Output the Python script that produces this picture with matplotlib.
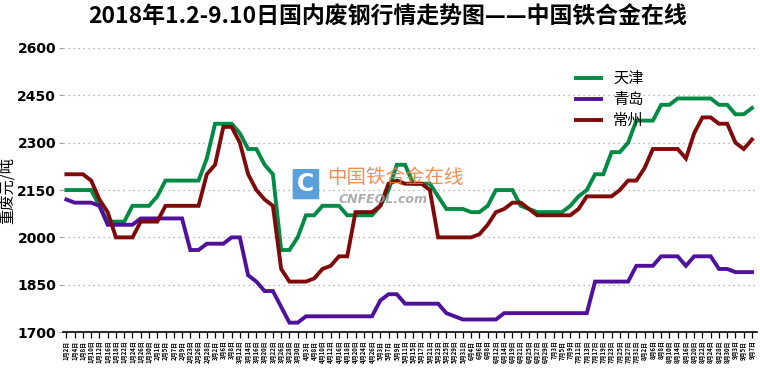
import matplotlib.pyplot as plt
from matplotlib.patches import FancyBboxPatch

plt.rcParams['font.family'] = ['Noto Sans CJK SC', 'DejaVu Sans']

dates = ["1月2日", "1月4日", "1月8日", "1月10日", "1月12日", "1月16日", "1月18日", "1月22日",
         "1月24日", "1月26日", "1月30日", "2月1日", "2月5日", "2月7日", "2月9日", "2月23日",
         "2月26日", "2月28日", "3月2日", "3月6日", "3月8日", "3月12日", "3月14日", "3月16日",
         "3月20日", "3月22日", "3月26日", "3月28日", "3月30日", "4月3日", "4月8日", "4月10日",
         "4月12日", "4月16日", "4月18日", "4月20日", "4月24日", "4月26日", "5月3日", "5月7日",
         "5月9日", "5月11日", "5月15日", "5月17日", "5月21日", "5月23日", "5月25日", "5月29日",
         "5月31日", "6月4日", "6月6日", "6月8日", "6月12日", "6月14日", "6月19日", "6月21日",
         "6月25日", "6月27日", "6月29日", "7月3日", "7月5日", "7月9日", "7月11日", "7月13日",
         "7月17日", "7月19日", "7月23日", "7月25日", "7月27日", "7月31日", "8月2日", "8月6日",
         "8月8日", "8月10日", "8月14日", "8月16日", "8月20日", "8月22日", "8月24日", "8月28日",
         "8月30日", "9月3日", "9月5日", "9月7日"]

tianjin = [2150, 2150, 2150, 2150, 2100, 2050, 2050, 2050, 2100, 2100, 2100, 2130, 2180, 2180,
           2180, 2180, 2180, 2250, 2360, 2360, 2360, 2330, 2280, 2280, 2230, 2200, 1960, 1960,
           2000, 2070, 2070, 2100, 2100, 2100, 2070, 2070, 2070, 2070, 2100, 2150, 2230, 2230,
           2170, 2170, 2170, 2130, 2090, 2090, 2090, 2080, 2080, 2100, 2150, 2150, 2150, 2100,
           2090, 2080, 2080, 2080, 2080, 2100, 2130, 2150, 2200, 2200, 2270, 2270, 2300, 2370,
           2370, 2370, 2420, 2420, 2440, 2440, 2440, 2440, 2440, 2420, 2420, 2390, 2390, 2410]

qingdao = [2120, 2110, 2110, 2110, 2100, 2040, 2040, 2040, 2040, 2060, 2060, 2060, 2060, 2060,
           2060, 1960, 1960, 1980, 1980, 1980, 2000, 2000, 1880, 1860, 1830, 1830, 1780, 1730,
           1730, 1750, 1750, 1750, 1750, 1750, 1750, 1750, 1750, 1750, 1800, 1820, 1820, 1790,
           1790, 1790, 1790, 1790, 1760, 1750, 1740, 1740, 1740, 1740, 1740, 1760, 1760, 1760,
           1760, 1760, 1760, 1760, 1760, 1760, 1760, 1760, 1860, 1860, 1860, 1860, 1860, 1910,
           1910, 1910, 1940, 1940, 1940, 1910, 1940, 1940, 1940, 1900, 1900, 1890, 1890, 1890]

changzhou = [2200, 2200, 2200, 2180, 2120, 2080, 2000, 2000, 2000, 2050, 2050, 2050, 2100, 2100,
             2100, 2100, 2100, 2200, 2230, 2350, 2350, 2300, 2200, 2150, 2120, 2100, 1900, 1860,
             1860, 1860, 1870, 1900, 1910, 1940, 1940, 2080, 2080, 2080, 2100, 2170, 2180, 2170,
             2170, 2170, 2150, 2000, 2000, 2000, 2000, 2000, 2010, 2040, 2080, 2090, 2110, 2110,
             2090, 2070, 2070, 2070, 2070, 2070, 2090, 2130, 2130, 2130, 2130, 2150, 2180, 2180,
             2220, 2280, 2280, 2280, 2280, 2250, 2330, 2380, 2380, 2360, 2360, 2300, 2280, 2310]

yticks = [1700, 1850, 2000, 2150, 2300, 2450, 2600]

x = list(range(len(dates)))

fig = plt.figure(figsize=(7.6, 3.69), dpi=100)
ax = fig.add_axes([0.083, 0.10, 0.913, 0.77])

ax.plot(x, tianjin, color='#008A44', lw=2.8, label='天津', solid_joinstyle='miter')
ax.plot(x, qingdao, color='#4F109C', lw=2.8, label='青岛', solid_joinstyle='miter')
ax.plot(x, changzhou, color='#7F0A0A', lw=2.8, label='常州', solid_joinstyle='miter')

ax.set_ylim(1700, 2600)
ax.set_xlim(-0.4, 83.6)
ax.set_yticks(yticks)
ax.set_yticklabels([str(v) for v in yticks], fontsize=10, fontweight='bold', family='DejaVu Sans')
for v in yticks[1:]:
    ax.axhline(v, color='#A0A0A0', lw=0.9, ls=(0, (1, 3)), zorder=0)

ax.set_xticks(x)
ax.set_xticklabels(dates, rotation=90, fontsize=4.3, fontweight='bold')
ax.tick_params(axis='x', length=4, width=0.9, pad=2)
ax.tick_params(axis='y', length=3, color='#A0A0A0', pad=2)

for s in ['top', 'right', 'left']:
    ax.spines[s].set_visible(False)
ax.spines['bottom'].set_linewidth(1.2)

ax.set_ylabel('重废元/吨', fontsize=11)
ax.yaxis.set_label_coords(-0.068, 0.5)

leg = ax.legend(loc='upper left', bbox_to_anchor=(0.72, 0.97), frameon=False, fontsize=11,
                handlelength=1.6, labelspacing=0.25, handletextpad=0.8)

fig.text(0.51, 0.953, '2018年1.2-9.10日国内废钢行情走势图——中国铁合金在线', ha='center',
         va='center', fontsize=16.5, fontweight='bold')

# watermark
logo = FancyBboxPatch((0.387, 0.462), 0.031, 0.078, boxstyle='round,pad=0.002',
                      transform=fig.transFigure, facecolor='#3D8FD4', edgecolor='none', alpha=0.85)
fig.add_artist(logo)
fig.text(0.4025, 0.501, 'C', color='white', fontsize=17, fontweight='bold', ha='center',
         va='center', family='DejaVu Sans')
fig.text(0.43, 0.518, '中国铁合金在线', color='#F07A3A', fontsize=14, ha='left', va='center',
         alpha=0.85)
fig.text(0.445, 0.458, 'CNFEOL.com', color='#9A9A9A', fontsize=9, ha='left', va='center',
         style='italic', fontweight='bold', family='DejaVu Sans', alpha=0.8)

fig.savefig('out.png', dpi=100)
